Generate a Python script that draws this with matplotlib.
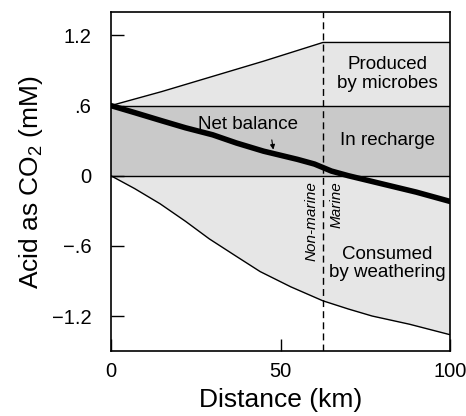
import numpy as np
import matplotlib
matplotlib.use("Agg")
from matplotlib import pyplot as plt

plt.rcParams['font.family'] = ['Liberation Sans', 'DejaVu Sans']
plt.rcParams['mathtext.fontset'] = 'custom'
plt.rcParams['mathtext.rm'] = 'Liberation Sans'

# distance along flow path (km)
dist_upper = [0, 15, 30, 45, 62.5, 100]
produced = [0.6, 0.72, 0.85, 0.98, 1.14, 1.14]

dist_lower = [0, 7, 14.5, 22, 29, 37, 44, 53, 62.5, 70, 77, 88, 100]
consumed = [0, -0.11, -0.24, -0.39, -0.54, -0.69, -0.82, -0.95, -1.07, -1.14, -1.2, -1.27, -1.36]

dist_net = [0, 7, 15, 22, 30, 37, 45, 55, 60, 65, 70, 80, 90, 100]
net_balance = [0.6, 0.54, 0.47, 0.41, 0.35, 0.28, 0.21, 0.14, 0.1, 0.04, 0.0, -0.07, -0.14, -0.22]

recharge = 0.6
boundary_km = 62.5

yticks = [1.2, 0.6, 0, -0.6, -1.2]
ytick_labels = ["1.2", ".6", "0", "\u2212.6", "\u22121.2"]
xticks = [0, 50, 100]

light = "#e6e6e6"
dark = "#c9c9c9"

fig = plt.figure(figsize=(4.66, 4.16), dpi=100)
ax = fig.add_axes([0.238, 0.156, 0.728, 0.815])

# shaded regions
ax.fill_between(dist_upper, recharge, produced, color=light, lw=0)
ax.fill_between([0, 100], 0, recharge, color=dark, lw=0)
ax.fill_between(dist_lower, consumed, 0, color=light, lw=0)

ax.plot(dist_upper, produced, color='black', lw=1)
ax.plot(dist_lower, consumed, color='black', lw=1)
ax.axhline(recharge, color='black', lw=1)
ax.axhline(0, color='black', lw=1)
ax.plot(dist_net, net_balance, color='black', lw=4, solid_capstyle='round')
ax.axvline(boundary_km, color='black', lw=1, ls=(0, (5, 3)))

ax.text(81.5, 0.87, "Produced\nby microbes", ha='center', va='center', fontsize=13.5, linespacing=1.1)
ax.text(81.5, 0.3, "In recharge", ha='center', va='center', fontsize=13.5)
ax.text(81.5, -0.75, "Consumed\nby weathering", ha='center', va='center', fontsize=13.5, linespacing=1.1)
ax.text(40.5, 0.44, "Net balance", ha='center', va='center', fontsize=13.5)
ax.annotate("", xy=(48, 0.2), xytext=(47.3, 0.33),
            arrowprops=dict(arrowstyle='-|>', color='black', lw=0.8, mutation_scale=7))
ax.text(59, -0.05, "Non-marine", rotation=90, ha='center', va='top', fontsize=11, style='italic')
ax.text(66.5, -0.05, "Marine", rotation=90, ha='center', va='top', fontsize=11, style='italic')

ax.set_xlim(0, 100)
ax.set_ylim(-1.5, 1.4)
ax.set_yticks(yticks)
ax.set_yticklabels(ytick_labels)
ax.set_xticks(xticks)
ax.tick_params(direction='in', length=9, width=1, labelsize=14.5)
ax.tick_params(axis='y', pad=14)
ax.tick_params(axis='x', pad=8)
for s in ax.spines.values():
    s.set_linewidth(1.2)

ax.set_xlabel("Distance (km)", fontsize=19, labelpad=5)
ax.set_ylabel("Acid as CO$_2$ (mM)", fontsize=19, labelpad=5)

fig.savefig("out.png", dpi=100)
